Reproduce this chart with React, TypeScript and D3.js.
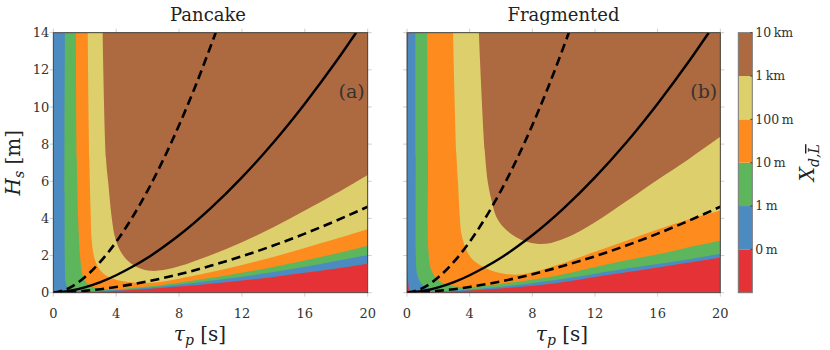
import * as d3 from 'd3'
import { useRef, useEffect } from 'react'

const W = 830, H = 350
const TOP = 32.7, BOTTOM = 292.7
const SERIF = '"DejaVu Serif", serif'

const tauTicks = [0, 4, 8, 12, 16, 20]
const hsTicks = [0, 2, 4, 6, 8, 10, 12, 14]

// colour levels, low to high
const levelColors = ['#e43236', '#4b8bc2', '#5db65b', '#fd8b1e', '#dccf6c', '#ad693f']
const levelLabels = ['0\u2009m', '1\u2009m', '10\u2009m', '100\u2009m', '1\u2009km', '10\u2009km']

// steepness lines [tau_p, H_s], same in both panels
const steepHigh = [[0, 0], [1, 0.25], [2, 0.83], [3, 1.67], [4, 2.74], [5, 4.02], [6, 5.5], [7, 7.17], [8, 9.02], [9, 11.04], [10.33, 14]]
const steepMid = [[0, 0], [1, 0.09], [2, 0.29], [3, 0.57], [4, 0.94], [5, 1.38], [6, 1.88], [7, 2.46], [8, 3.09], [10, 4.54], [12, 6.21], [14, 8.09], [16, 10.18], [18, 12.46], [19.26, 14]]
const steepLow = [[0, 0], [1, 0.03], [2, 0.1], [3, 0.19], [4, 0.31], [5, 0.45], [6, 0.61], [7, 0.79], [8, 0.99], [10, 1.45], [12, 1.96], [14, 2.54], [16, 3.18], [18, 3.88], [20, 4.63]]

// contour edges, Pancake (a): from top edge round to right edge
const pan0m = [[0.02, 14], [0.02, 0.4], [0.1, 0.06], [0.6, 0.02], [1.5, 0.03], [2, 0.035], [3, 0.06], [4, 0.1], [6, 0.2], [8, 0.33], [10, 0.48], [12, 0.66], [14, 0.85], [16, 1.07], [18, 1.3], [20, 1.56]]
const pan1m = [[0.74, 14], [0.74, 1.2], [0.78, 0.6], [0.9, 0.3], [1.2, 0.17], [1.6, 0.11], [2.2, 0.09], [3, 0.1], [4, 0.14], [6, 0.27], [8, 0.44], [10, 0.64], [12, 0.86], [14, 1.12], [16, 1.4], [18, 1.71], [20, 2.03]]
const pan10m = [[1.44, 14], [1.49, 7.25], [1.6, 3.5], [1.7, 2.0], [1.85, 1.0], [2.05, 0.6], [2.4, 0.35], [3, 0.22], [3.6, 0.18], [4.3, 0.19], [5, 0.25], [6, 0.33], [7, 0.43], [8, 0.54], [10, 0.79], [12, 1.07], [14, 1.39], [16, 1.74], [18, 2.11], [20, 2.53]]
const pan100m = [[2.19, 14], [2.29, 7.25], [2.37, 4.5], [2.44, 2.84], [2.65, 1.76], [2.95, 1.25], [3.18, 1.04], [3.6, 0.82], [4.03, 0.69], [4.66, 0.59], [5.5, 0.53], [6.3, 0.53], [7, 0.6], [8, 0.75], [10, 1.1], [12, 1.49], [14, 1.92], [16, 2.41], [18, 2.9], [20, 3.41]]
const pan1km = [[3.14, 14], [3.35, 7.25], [3.5, 5.89], [3.71, 4.09], [3.95, 2.9], [4.35, 2.12], [4.9, 1.6], [5.5, 1.32], [6.2, 1.18], [7, 1.22], [8, 1.42], [10, 2.02], [12, 2.72], [14, 3.52], [16, 4.42], [18, 5.35], [20, 6.34]]

// contour edges, Fragmented (b)
const frag0m = [[0.08, 14], [0.08, 0.5], [0.2, 0.1], [1, 0.03], [2, 0.05], [4, 0.12], [6, 0.23], [7.85, 0.36], [10, 0.58], [12.1, 0.86], [14, 1.1], [16.36, 1.4], [18, 1.62], [20, 1.9]]
const frag1m = [[0.53, 14], [0.55, 7.25], [0.57, 1.76], [0.65, 1.0], [0.91, 0.5], [1.45, 0.16], [2, 0.1], [3, 0.12], [4, 0.17], [6, 0.32], [7.85, 0.5], [10, 0.75], [12.1, 1.04], [14, 1.3], [16.36, 1.58], [18, 1.8], [20, 2.1]]
const frag10m = [[1.28, 14], [1.34, 7.25], [1.36, 2.3], [1.55, 1.22], [1.98, 0.68], [2.5, 0.45], [2.94, 0.35], [3.6, 0.31], [4.5, 0.34], [6, 0.47], [7.85, 0.68], [10, 1.0], [12.1, 1.4], [14, 1.75], [16.36, 2.12], [18, 2.45], [20, 2.8]]
const frag100m = [[2.94, 14], [3.15, 7.5], [3.26, 5.89], [3.37, 4.09], [3.47, 3.19], [3.79, 2.3], [4.22, 1.76], [5.28, 1.22], [6.2, 1.02], [7.2, 0.98], [8, 1.1], [10, 1.6], [12, 2.2], [14, 2.8], [16, 3.4], [18, 3.95], [20, 4.42]]
const frag1km = [[4.59, 14], [4.96, 7.68], [5.17, 5.89], [5.39, 4.99], [5.7, 4.09], [6.13, 3.55], [6.77, 3.1], [7.5, 2.78], [8.4, 2.62], [9.2, 2.68], [10, 2.9], [11, 3.3], [12, 3.8], [13, 4.35], [14, 4.92], [15, 5.5], [16, 6.08], [17, 6.63], [18, 7.2], [19, 7.8], [20, 8.4]]

const panels = [
  { key: 'pan', title: 'Pancake', tag: '(a)', left: 53.3, right: 367.7, yLabels: true, edges: [pan0m, pan1m, pan10m, pan100m, pan1km], titleX: 208, xLabelX: 200 },
  { key: 'frag', title: 'Fragmented', tag: '(b)', left: 407, right: 720.3, yLabels: false, edges: [frag0m, frag1m, frag10m, frag100m, frag1km], titleX: 563.5, xLabelX: 562 },
]

export default function App() {
  const svgRef = useRef(null)

  useEffect(() => {
    const svg = d3.select(svgRef.current)
    svg.selectAll('*').remove()
    const defs = svg.append('defs')

    panels.forEach((p) => {
      const x = d3.scaleLinear().domain([0, 20]).range([p.left, p.right])
      const y = d3.scaleLinear().domain([0, 14]).range([BOTTOM, TOP])
      const clipId = 'clip-' + p.key
      defs.append('clipPath').attr('id', clipId).append('rect')
        .attr('x', x(0)).attr('y', y(14)).attr('width', x(20) - x(0)).attr('height', y(0) - y(14))

      // grey outward ticks on all four sides
      const tk = svg.append('g').attr('stroke', '#cfcfcf').attr('stroke-width', 1)
      tauTicks.forEach((t) => {
        tk.append('line').attr('x1', x(t)).attr('x2', x(t)).attr('y1', y(0)).attr('y2', y(0) + 4)
        tk.append('line').attr('x1', x(t)).attr('x2', x(t)).attr('y1', y(14)).attr('y2', y(14) - 4)
      })
      hsTicks.forEach((t) => {
        tk.append('line').attr('x1', x(0)).attr('x2', x(0) - 4).attr('y1', y(t)).attr('y2', y(t))
        tk.append('line').attr('x1', x(20)).attr('x2', x(20) + 4).attr('y1', y(t)).attr('y2', y(t))
      })

      const plot = svg.append('g').attr('clip-path', `url(#${clipId})`)
      plot.append('rect').attr('x', x(0)).attr('y', y(14)).attr('width', x(20) - x(0)).attr('height', y(0) - y(14))
        .attr('fill', levelColors[0])

      const edgeLine = d3.line().x((d) => x(d[0])).y((d) => y(d[1])).curve(d3.curveCatmullRom.alpha(0.5))
      p.edges.forEach((pts, i) => {
        const last = pts[pts.length - 1]
        const first = pts[0]
        const d = edgeLine(pts) +
          `L${x(20) + 6},${y(last[1])}L${x(20) + 6},${y(14) - 6}L${x(first[0])},${y(14) - 6}Z`
        plot.append('path').attr('d', d).attr('fill', levelColors[i + 1])
      })

      const sLine = d3.line().x((d) => x(d[0])).y((d) => y(d[1])).curve(d3.curveMonotoneX)
      ;[steepHigh, steepLow].forEach((pts) => {
        plot.append('path').datum(pts).attr('d', sLine).attr('fill', 'none')
          .attr('stroke', '#000').attr('stroke-width', 2.6).attr('stroke-dasharray', '9,5')
      })
      plot.append('path').datum(steepMid).attr('d', sLine).attr('fill', 'none')
        .attr('stroke', '#000').attr('stroke-width', 2.4)

      // frame
      svg.append('rect').attr('x', x(0)).attr('y', y(14)).attr('width', x(20) - x(0)).attr('height', y(0) - y(14))
        .attr('fill', 'none').attr('stroke', '#3a3a3a').attr('stroke-width', 0.9)

      // tick labels
      tauTicks.forEach((t) => {
        svg.append('text').attr('x', x(t)).attr('y', 318).attr('text-anchor', 'middle')
          .attr('font-family', SERIF).attr('font-size', 13).attr('fill', '#333').text(t)
      })
      if (p.yLabels) {
        hsTicks.forEach((t) => {
          svg.append('text').attr('x', x(0) - 4).attr('y', y(t)).attr('dy', '0.35em').attr('text-anchor', 'end')
            .attr('font-family', SERIF).attr('font-size', 13).attr('fill', '#333').text(t)
        })
        const yl = svg.append('text').attr('transform', `translate(20,${(TOP + BOTTOM) / 2}) rotate(-90)`)
          .attr('text-anchor', 'middle').attr('font-family', SERIF).attr('font-size', 20).attr('fill', '#222')
        yl.append('tspan').attr('font-style', 'italic').text('H')
        yl.append('tspan').attr('font-style', 'italic').attr('font-size', 14).attr('dy', 4).text('s')
        yl.append('tspan').attr('dy', -4).text(' [m]')
      }

      // titles and labels
      svg.append('text').attr('x', p.titleX).attr('y', 21).attr('text-anchor', 'middle')
        .attr('font-family', SERIF).attr('font-size', 18).attr('fill', '#222').text(p.title)
      const xl = svg.append('text').attr('x', p.xLabelX).attr('y', 341).attr('text-anchor', 'middle')
        .attr('font-family', SERIF).attr('font-size', 20).attr('fill', '#222')
      xl.append('tspan').attr('font-style', 'italic').text('τ')
      xl.append('tspan').attr('font-style', 'italic').attr('font-size', 14).attr('dy', 4).text('p')
      xl.append('tspan').attr('dy', -4).text(' [s]')
      svg.append('text').attr('x', x(20) - 3).attr('y', 98).attr('text-anchor', 'end')
        .attr('font-family', SERIF).attr('font-size', 19).attr('fill', '#333').text(p.tag)
    })

    // colour bar
    const cbX = 738.3, cbW = 14
    const cb = d3.scaleLinear().domain([0, levelColors.length]).range([BOTTOM, TOP])
    levelColors.forEach((c, i) => {
      svg.append('rect').attr('x', cbX).attr('y', cb(i + 1)).attr('width', cbW).attr('height', cb(i) - cb(i + 1)).attr('fill', c)
    })
    svg.append('rect').attr('x', cbX).attr('y', TOP).attr('width', cbW).attr('height', BOTTOM - TOP)
      .attr('fill', 'none').attr('stroke', '#777').attr('stroke-width', 1)
    levelLabels.forEach((l, i) => {
      svg.append('line').attr('x1', cbX + cbW - 2).attr('x2', cbX + cbW).attr('y1', cb(i + 1)).attr('y2', cb(i + 1)).attr('stroke', '#444')
      svg.append('text').attr('x', cbX + cbW + 3).attr('y', cb(i + 1)).attr('dy', '0.35em')
        .attr('font-family', SERIF).attr('font-size', 12.5).attr('fill', '#333').text(l)
    })
    const cl = svg.append('text').attr('transform', `translate(814,${(TOP + BOTTOM) / 2}) rotate(-90)`)
      .attr('text-anchor', 'middle').attr('font-family', SERIF).attr('font-size', 20).attr('fill', '#222')
    cl.append('tspan').attr('font-style', 'italic').text('X')
    cl.append('tspan').attr('font-style', 'italic').attr('font-size', 14).attr('dy', 5).text('d,')
    cl.append('tspan').attr('font-style', 'italic').attr('font-size', 14).style('text-decoration', 'overline').text('L')
  }, [])

  return (
    <div style={{ position: 'absolute', left: 0, top: 0 }}>
      <svg ref={svgRef} width={W} height={H} style={{ display: 'block', background: '#fff' }} />
    </div>
  )
}
